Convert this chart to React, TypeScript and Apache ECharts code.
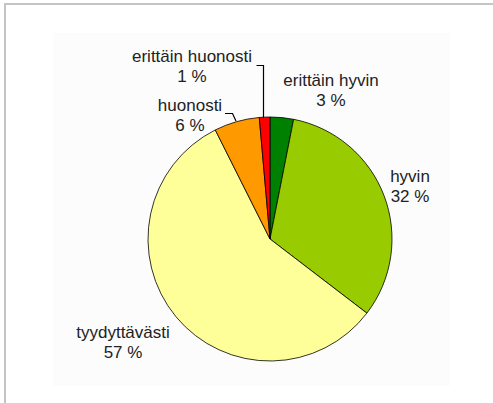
import React, { useEffect, useRef } from "react";
import * as echarts from "echarts";

const categories = ["erittäin hyvin", "hyvin", "tyydyttävästi", "huonosti", "erittäin huonosti"];
const values = [3.1, 32.3, 57.2, 6.0, 1.4];
const colors = ["#008000", "#99cc00", "#ffff99", "#ff9900", "#ff0000"];

// label centre positions (pixels) and optional leader lines
const labelPos: [number, number][] = [
  [331, 90],
  [410, 186],
  [123, 342],
  [190, 115],
  [192, 66],
];
const leaderLines: ([number, number][] | null)[] = [
  null,
  null,
  null,
  [[225, 113.5], [232.5, 113.5], [236, 121]],
  [[256.5, 65.5], [263.5, 65.5], [263.5, 118]],
];

export default function App() {
  const ref = useRef<HTMLDivElement>(null);
  useEffect(() => {
    if (!ref.current) return;
    const chart = echarts.init(ref.current, null, { renderer: "svg" });
    chart.setOption({
      animation: false,
      backgroundColor: "#ffffff",
      graphic: [
        {
          type: "rect",
          shape: { x: 53, y: 33, width: 397, height: 353 },
          style: { fill: "#fcfcfc", stroke: "none" },
          silent: true,
          z: -10,
        },
        {
          type: "rect",
          shape: { x: 5, y: 4, width: 520, height: 440 },
          style: { fill: "none", stroke: "#c4c4c4", lineWidth: 2 },
          silent: true,
          z: -5,
        },
      ],
      series: [
        {
          type: "pie",
          center: [270, 239],
          radius: 122,
          startAngle: 90,
          clockwise: true,
          avoidLabelOverlap: false,
          itemStyle: { borderColor: "#000000", borderWidth: 0.8 },
          emphasis: { disabled: true },
          label: {
            show: true,
            position: "outside",
            formatter: (p: any) => `${p.name}\n${Math.round(p.value)} %`,
            fontFamily: "Liberation Sans, Arial, sans-serif",
            fontSize: 17,
            lineHeight: 20,
            color: "#222222",
            align: "center",
          },
          labelLine: { show: false },
          labelLayout: (params: any) => {
            const i = params.dataIndex;
            const out: any = {
              x: labelPos[i][0],
              y: labelPos[i][1],
              align: "center",
              verticalAlign: "middle",
            };
            if (leaderLines[i]) out.labelLinePoints = leaderLines[i];
            return out;
          },
          data: categories.map((name, i) => ({
            name,
            value: values[i],
            itemStyle: { color: colors[i] },
            labelLine: leaderLines[i]
              ? { show: true, lineStyle: { color: "#000000", width: 1.2 } }
              : { show: false },
          })),
        },
      ],
    });
    return () => chart.dispose();
  }, []);
  return (
    <div
      ref={ref}
      style={{ position: "fixed", left: 0, top: 0, width: 493, height: 403 }}
    />
  );
}
